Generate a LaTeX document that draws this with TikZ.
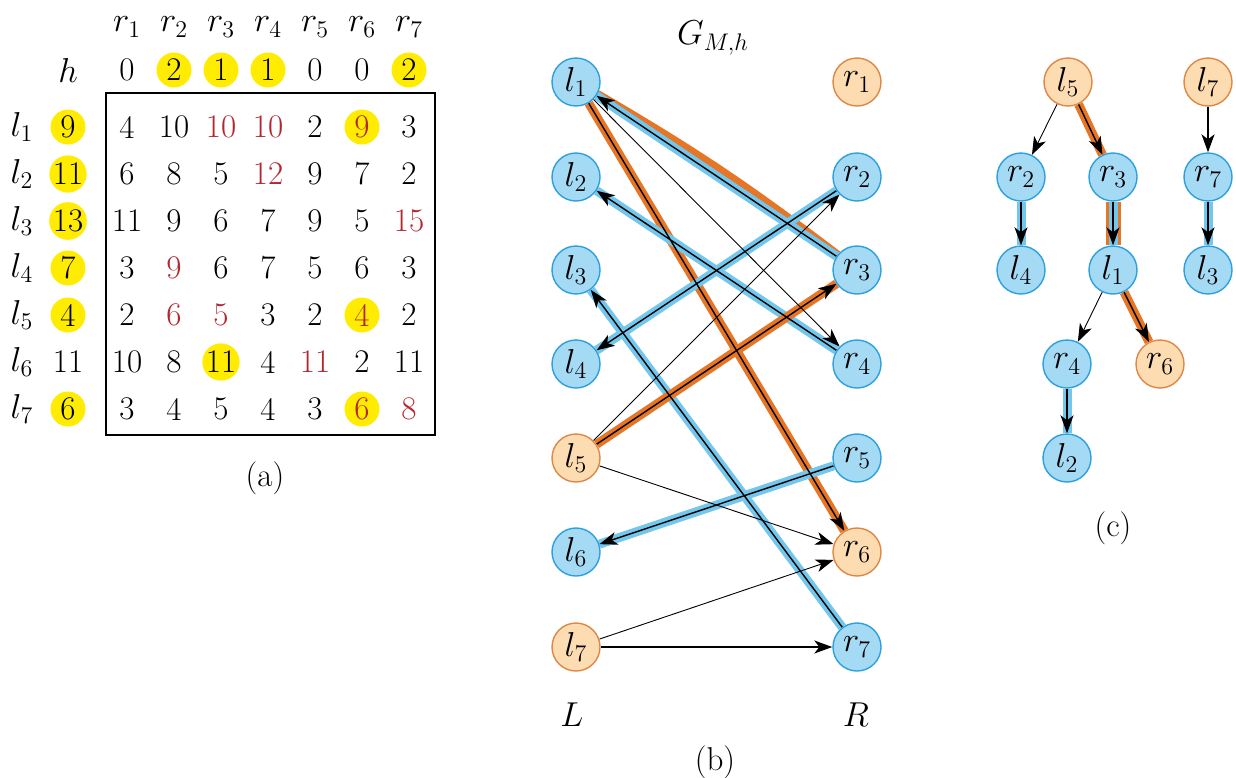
\documentclass[tikz,border=0pt]{standalone}
\usetikzlibrary{arrows.meta}
\definecolor{nblue}{RGB}{45,160,220}
\definecolor{fblue}{RGB}{165,218,245}
\definecolor{norange}{RGB}{222,135,70}
\definecolor{forange}{RGB}{253,220,178}
\definecolor{bblue}{RGB}{115,198,236}
\definecolor{borange}{RGB}{230,118,38}
\definecolor{hyellow}{RGB}{255,236,0}
\definecolor{numred}{RGB}{178,38,48}
\pgfdeclarelayer{bg}
\pgfsetlayers{bg,main}
\begin{document}
\begin{tikzpicture}[x=0.5pt,y=-0.5pt,
  every node/.style={font=\fontsize{16.5}{19}\selectfont},
  cn/.style={inner sep=0pt},
  cr/.style={inner sep=0pt,text=numred},
  cy/.style={circle,fill=hyellow,minimum size=17.5pt,inner sep=0pt},
  cyr/.style={cy,text=numred},
  bnode/.style={circle,draw=nblue,fill=fblue,line width=0.7pt,minimum size=24pt,inner sep=0pt},
  onode/.style={circle,draw=norange,fill=forange,line width=0.7pt,minimum size=24pt,inner sep=0pt},
  arr/.style={-{Stealth[length=9pt,width=6.5pt,inset=2.5pt]},line width=0.7pt,draw=black},
  tarr/.style={arr,line width=0.45pt},
  bbd/.style={draw=bblue,line width=4.5pt},
  obd/.style={draw=borange,line width=4.5pt},
  obdw/.style={draw=borange,line width=7.5pt}]
\useasboundingbox (0,0) rectangle (1236,777);

% ---------- (a) ----------
\foreach \j in {1,...,7}
  \node[cn] (hd\j) at ({127+47*(\j-1)},27) {$r_{\j}$};
\node[cn] (hlab) at (68,70) {$h$};
\foreach \v/\s [count=\j] in {0/cn,2/cy,1/cy,1/cy,0/cn,0/cn,2/cy}
  \node[\s] (hr\j) at ({127+47*(\j-1)},70) {\v};
\foreach \v/\s [count=\i] in {9/cy,11/cy,13/cy,7/cy,4/cy,11/cn,6/cy}{
  \node[cn] (ll\i) at (22,{127+47*(\i-1)}) {$l_{\i}$};
  \node[\s] (hl\i) at (68,{127+47*(\i-1)}) {\v};
}
\foreach \row [count=\i] in {
  {4/cn,10/cn,10/cr,10/cr,2/cn,9/cyr,3/cn},
  {6/cn,8/cn,5/cn,12/cr,9/cn,7/cn,2/cn},
  {11/cn,9/cn,6/cn,7/cn,9/cn,5/cn,15/cr},
  {3/cn,9/cr,6/cn,7/cn,5/cn,6/cn,3/cn},
  {2/cn,6/cr,5/cr,3/cn,2/cn,4/cyr,2/cn},
  {10/cn,8/cn,11/cy,4/cn,11/cr,2/cn,11/cn},
  {3/cn,4/cn,5/cn,4/cn,3/cn,6/cyr,8/cr}}
  \foreach \v/\s [count=\j] in \row
    \node[\s] (m\i\j) at ({127+47*(\j-1)},{127+47*(\i-1)}) {\v};
\draw[line width=0.7pt] (106,93) rectangle (435,435);
\node (capa) at (265,478) {(a)};

% ---------- (b) ----------
\node (gmh) at (713,38) {$G_{M,h}$};
\foreach \n/\y/\s in {1/82/bnode,2/177/bnode,3/270/bnode,4/364/bnode,5/458/onode,6/552/bnode,7/647/onode}
  \node[\s] (bl\n) at (576,\y) {$l_{\n}$};
\foreach \n/\y/\s in {1/82/onode,2/177/bnode,3/270/bnode,4/364/bnode,5/458/bnode,6/552/onode,7/647/bnode}
  \node[\s] (br\n) at (857,\y) {$r_{\n}$};
\node (Llab) at (572,715) {$L$};
\node (Rlab) at (856,715) {$R$};
\node (capb) at (715,762) {(b)};

% ---------- (c) ----------
\node[onode] (cl5) at (1068,82) {$l_5$};
\node[onode] (cl7) at (1208,82) {$l_7$};
\node[bnode] (cr2) at (1021,177) {$r_2$};
\node[bnode] (cr3) at (1113,177) {$r_3$};
\node[bnode] (cr7) at (1208,177) {$r_7$};
\node[bnode] (cl4) at (1021,270) {$l_4$};
\node[bnode] (cl1) at (1113,270) {$l_1$};
\node[bnode] (cl3) at (1208,270) {$l_3$};
\node[bnode] (cr4) at (1067,364) {$r_4$};
\node[onode] (cr6) at (1160,364) {$r_6$};
\node[bnode] (cl2) at (1067,458) {$l_2$};
\node (capc) at (1113,528) {(c)};

\begin{pgfonlayer}{bg}
  % (b) bands
  \draw[obd] (bl1) to[bend left=3.5] (br3);
  \draw[bbd] (br3) -- (bl1);
  \draw[obd] (bl1) -- (br6);
  \draw[bbd] (br2) -- (bl4);
  \draw[bbd] (br4) -- (bl2);
  \draw[bbd] (br7) -- (bl3);
  \draw[bbd] (br5) -- (bl6);
  \draw[obd] (bl5) -- (br3);
  % (b) arrows
  \draw[arr] (br3) -- (bl1);
  \draw[arr] (bl1) -- (br6);
  \draw[arr] (br2) -- (bl4);
  \draw[arr] (br4) -- (bl2);
  \draw[arr] (br7) -- (bl3);
  \draw[arr] (br5) -- (bl6);
  \draw[arr] (bl5) -- (br3);
  \draw[tarr] (bl1) -- (br4);
  \draw[tarr] (bl5) -- (br2);
  \draw[tarr] (bl5) -- (br6);
  \draw[tarr] (bl7) -- (br6);
  \draw[arr] (bl7) -- (br7);
  % (c)
  \draw[obd] (cl5) -- (cr3);
  \draw[obdw] (cr3) -- (cl1);
  \draw[bbd] (cr3) -- (cl1);
  \draw[obd] (cl1) -- (cr6);
  \draw[bbd] (cr2) -- (cl4);
  \draw[bbd] (cr7) -- (cl3);
  \draw[bbd] (cr4) -- (cl2);
  \draw[tarr] (cl5) -- (cr2);
  \draw[arr] (cl5) -- (cr3);
  \draw[arr] (cr3) -- (cl1);
  \draw[arr] (cr2) -- (cl4);
  \draw[arr] (cl7) -- (cr7);
  \draw[arr] (cr7) -- (cl3);
  \draw[tarr] (cl1) -- (cr4);
  \draw[arr] (cl1) -- (cr6);
  \draw[arr] (cr4) -- (cl2);
\end{pgfonlayer}
\end{tikzpicture}
\end{document}
